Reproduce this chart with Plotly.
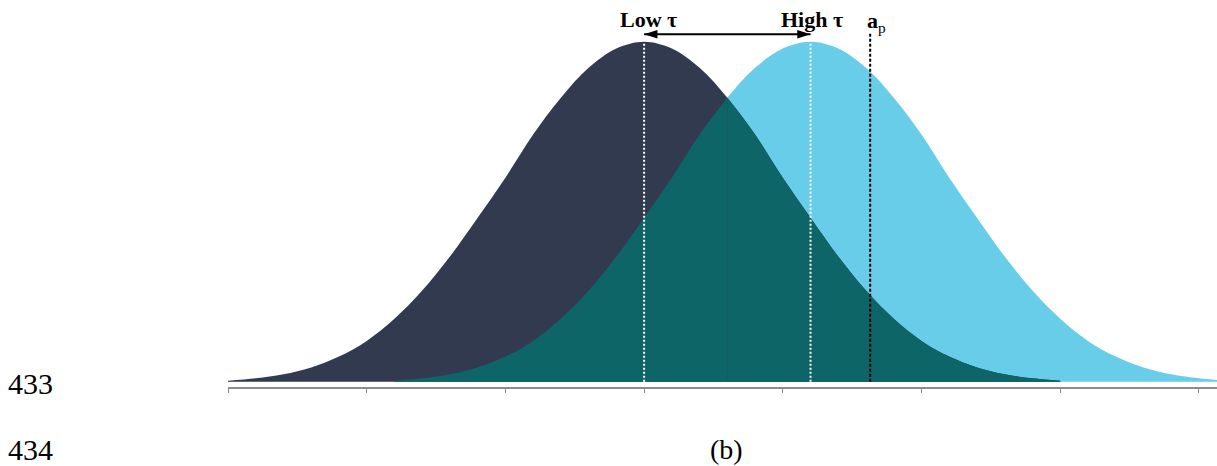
import plotly.graph_objects as go

# ---- data ----
tick_positions = [0, 1, 2, 3, 4, 5, 6, 7]
low_tau_mean = 3.0      # dark curve centre ("Low τ")
high_tau_mean = 4.2     # light curve centre ("High τ")
a_p_position = 4.63     # dashed threshold line
# relative height of each bell curve at offsets (in tick units) from its centre
profile_offsets = [0.0, 0.2, 0.4, 0.6, 0.8, 1.0, 1.2, 1.4, 1.6, 1.8, 2.0, 2.2, 2.4, 2.6, 2.8, 3.0]
profile_heights = [1.000, 0.980, 0.923, 0.835, 0.727, 0.600, 0.482, 0.368, 0.268, 0.185,
                   0.120, 0.074, 0.042, 0.022, 0.010, 0.003]
labels = {"low": "Low τ", "high": "High τ", "ap": "<b>a</b><sub>p</sub>"}
line_numbers = ["433", "434"]
caption = "(b)"

DARK = "#323A50"
LIGHT = "#68CDE8"
TEAL = "#0E6568"


def curve(mean):
    xs = [mean - o for o in reversed(profile_offsets[1:])] + [mean + o for o in profile_offsets]
    ys = list(reversed(profile_heights[1:])) + list(profile_heights)
    return xs, ys


dx, dy = curve(low_tau_mean)
lx, ly = curve(high_tau_mean)
cross = (low_tau_mean + high_tau_mean) / 2
eps = 1e-9
tl = [(x, y) for x, y in zip(lx, ly) if x <= cross + eps]
tr = [(x, y) for x, y in zip(dx, dy) if x >= cross - eps]

fig = go.Figure()
common = dict(mode="lines", fill="tozeroy", line=dict(width=0, shape="spline", smoothing=1),
              hoverinfo="skip", showlegend=False)
fig.add_trace(go.Scatter(x=lx, y=ly, fillcolor=LIGHT, **common))
fig.add_trace(go.Scatter(x=dx, y=dy, fillcolor=DARK, **common))
fig.add_trace(go.Scatter(x=[p[0] for p in tl], y=[p[1] for p in tl], fillcolor=TEAL, **common))
fig.add_trace(go.Scatter(x=[p[0] for p in tr], y=[p[1] for p in tr], fillcolor=TEAL, **common))

# vertical marker lines
fig.add_shape(type="line", xref="x", yref="y", x0=low_tau_mean, x1=low_tau_mean, y0=0, y1=1,
              line=dict(color="white", width=2, dash="2px,2px"))
fig.add_shape(type="line", xref="x", yref="y", x0=high_tau_mean, x1=high_tau_mean, y0=0, y1=1,
              line=dict(color="white", width=2, dash="2px,2px"))
fig.add_shape(type="line", xref="x", yref="y", x0=a_p_position, x1=a_p_position, y0=0, y1=1.026,
              line=dict(color="black", width=2, dash="3px,2px"))

# double-headed arrow between the two centres
arrow_y = 1.022
fig.add_trace(go.Scatter(x=[low_tau_mean, high_tau_mean], y=[arrow_y, arrow_y], mode="lines+markers",
                         line=dict(color="black", width=2),
                         marker=dict(symbol="arrow", angle=[-90, 90], angleref="up", size=14,
                                     color="black", line=dict(width=0)),
                         hoverinfo="skip", showlegend=False, cliponaxis=False))

W, H = 1217, 466
L, B, T = 228, 79, 0
PH = H - B - T


def py(p):
    return 1 - (p - T) / PH


tfont = dict(family="Liberation Serif", size=22, color="black")
fig.add_annotation(x=low_tau_mean, xshift=4, y=py(19), xref="x", yref="paper",
                   text="<b>" + labels["low"] + "</b>", showarrow=False, font=tfont,
                   xanchor="center", yanchor="middle")
fig.add_annotation(x=high_tau_mean, xshift=1, y=py(19), xref="x", yref="paper",
                   text="<b>" + labels["high"] + "</b>", showarrow=False, font=tfont,
                   xanchor="center", yanchor="middle")
fig.add_annotation(x=a_p_position, xshift=-5, y=py(22), xref="x", yref="paper",
                   text=labels["ap"], showarrow=False, font=tfont,
                   xanchor="left", yanchor="middle")

nfont = dict(family="Liberation Serif", size=30, color="black")
fig.add_annotation(x=0, xshift=-L + 6, y=py(383), xref="paper", yref="paper", text=line_numbers[0],
                   showarrow=False, font=nfont, xanchor="left", yanchor="middle")
fig.add_annotation(x=0, xshift=-L + 6, y=py(449), xref="paper", yref="paper", text=line_numbers[1],
                   showarrow=False, font=nfont, xanchor="left", yanchor="middle")
fig.add_annotation(x=(726.5 - L) / (W - L), y=py(449), xref="paper", yref="paper", text=caption,
                   showarrow=False, font=dict(family="Liberation Serif", size=28, color="black"),
                   xanchor="center", yanchor="middle")

fig.update_layout(
    width=W, height=H,
    margin=dict(l=L, r=0, t=T, b=B, pad=0),
    paper_bgcolor="white", plot_bgcolor="white",
    xaxis=dict(range=[0, (W - L) / 138.7], tickvals=tick_positions, showticklabels=False,
               ticks="outside", ticklen=4, tickwidth=1, tickcolor="#8a8a8a",
               showline=True, linecolor="#8c8c8c", linewidth=2, showgrid=False, zeroline=False,
               fixedrange=True),
    yaxis=dict(range=[-0.0156, 1.1226], visible=False, showgrid=False, zeroline=False,
               fixedrange=True),
)

fig.write_html("out.html")
